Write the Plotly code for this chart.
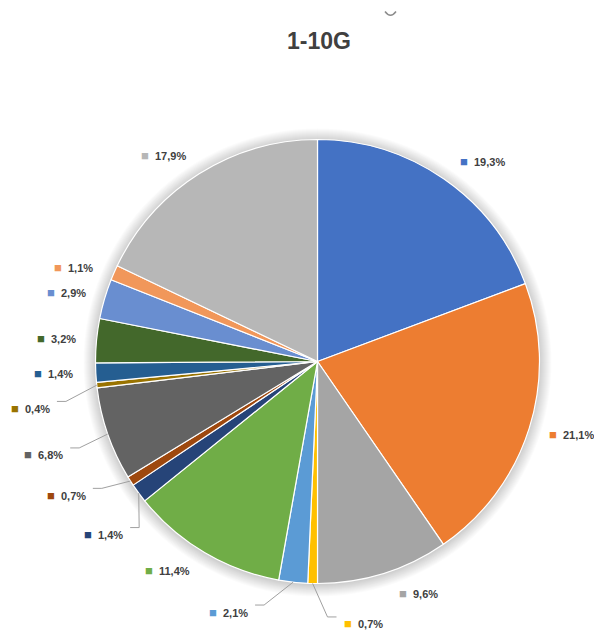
import math
import plotly.graph_objects as go

# Share of each segment (%), clockwise from 12 o'clock
values = [19.3, 21.1, 9.6, 0.7, 2.1, 11.4, 1.4, 0.7, 6.8, 0.4, 1.4, 3.2, 2.9, 1.1, 17.9]
colors = ["#4472C4", "#ED7D31", "#A5A5A5", "#FFC000", "#5B9BD5", "#70AD47",
          "#264478", "#9E480E", "#636363", "#997300", "#255E91", "#43682B",
          "#698ED0", "#F1975A", "#B7B7B7"]
title = "1-10G"

# Layout (pixels)
W, H = 594, 631
CX, CY, R = 317.5, 361.5, 222
PUSH = 28
# per-label shifts (dx, dy) and which labels get a leader line
label_shift = [(-2, 0), (-9, 0), (5, 0), (29.5, 19.5), (-40, 9), (2, 0), (9, 29),
               (-19, 3), (-16, 14), (-17, 21), (7, 0), (9, 0), (10, 0), (7, 3), (4, 0)]
leader = [False, False, False, True, True, False, True, True, True, True,
          False, False, False, False, False]
force_right = [False, False, False, True] + [False] * 11

TEXT_COLOR = "#404040"
LINE_COLOR = "#A0A0A0"
FONT = "Liberation Sans, Arial, sans-serif"


def X(px):
    return px / W


def Y(py):
    return 1 - py / H


fig = go.Figure()
fig.add_trace(go.Pie(
    values=values,
    marker=dict(colors=colors, line=dict(color="white", width=1.2)),
    sort=False,
    direction="clockwise",
    rotation=0,
    textinfo="none",
    hoverinfo="skip",
    showlegend=False,
    domain=dict(x=[X(CX - R), X(CX + R)], y=[Y(CY + R), Y(CY - R)]),
))

shapes = []
# soft glow behind the pie
for k in range(12, 0, -1):
    rr = R + k
    shapes.append(dict(type="circle", xref="paper", yref="paper", layer="below",
                       x0=X(CX - rr), x1=X(CX + rr), y0=Y(CY + rr + 1), y1=Y(CY - rr + 1),
                       fillcolor="rgba(0,0,0,0.016)", line=dict(width=0)))

annotations = []
total = sum(values)
cum = 0.0
for i, v in enumerate(values):
    mid = (cum + v / 2) / total * 2 * math.pi
    cum += v
    s, c = math.sin(mid), math.cos(mid)
    ex, ey = CX + R * s, CY - R * c
    px, py = CX + (R + PUSH) * s, CY - (R + PUSH) * c + 7 * c
    dx, dy = label_shift[i]
    lx, ly = px + dx, py + dy
    right = s > 0 or force_right[i]
    txt = f"{v:.1f}".replace(".", ",") + "%"
    annotations.append(dict(
        x=X(lx), y=Y(ly), xref="paper", yref="paper",
        xanchor="left" if right else "right", yanchor="middle",
        text=f'<span style="color:{colors[i]};font-size:13px">■</span>  <b>{txt}</b>',
        showarrow=False, font=dict(family=FONT, size=11, color=TEXT_COLOR),
    ))
    if leader[i]:
        side = -1 if right else 1
        hy = ly - 7
        elbow = lx + side * 14
        end = lx + side * 5
        path = f"M {X(ex)},{Y(ey)} L {X(elbow)},{Y(hy)} L {X(end)},{Y(hy)}"
        shapes.append(dict(type="path", xref="paper", yref="paper", path=path,
                           line=dict(color=LINE_COLOR, width=1), layer="above"))

# title
annotations.append(dict(x=X(319), y=Y(41), xref="paper", yref="paper",
                        xanchor="center", yanchor="middle", showarrow=False,
                        text=f"<b>{title}</b>",
                        font=dict(family=FONT, size=23, color=TEXT_COLOR)))

# small handle mark near the top edge
shapes.append(dict(type="path", xref="paper", yref="paper",
                   path=f"M {X(385)},{Y(11.5)} Q {X(390.5)},{Y(19)} {X(396)},{Y(11.5)}",
                   line=dict(color="#8C8C8C", width=1.5)))

fig.update_layout(
    width=W, height=H,
    margin=dict(l=0, r=0, t=0, b=0),
    paper_bgcolor="white", plot_bgcolor="white",
    shapes=shapes, annotations=annotations,
)
fig.write_html("out.html")
